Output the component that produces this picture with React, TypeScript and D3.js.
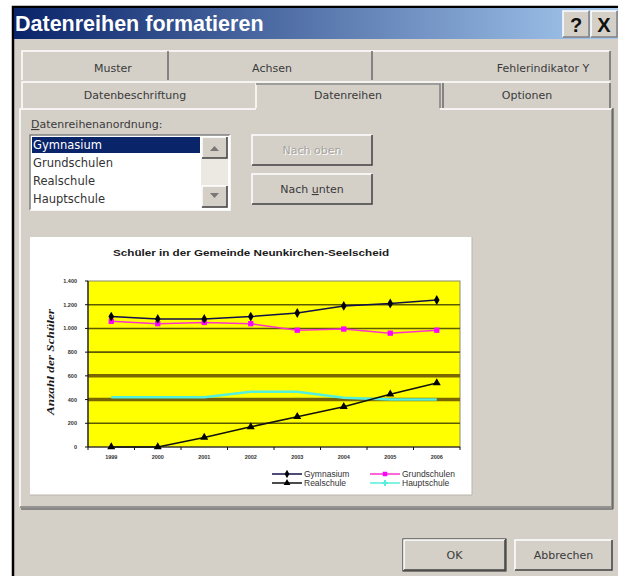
import React from 'react';
import * as d3 from 'd3';

// Daten aus dem Diagramm
const years = ['1999', '2000', '2001', '2002', '2003', '2004', '2005', '2006'];
const gymnasium = [1100, 1080, 1080, 1100, 1130, 1190, 1210, 1240];
const grundschulen = [1060, 1040, 1050, 1040, 985, 995, 960, 985];
const realschule = [0, 0, 80, 170, 255, 340, 445, 540];
const hauptschule = [420, 420, 420, 465, 465, 415, 400, 400];
const yTicks = [0, 200, 400, 600, 800, 1000, 1200, 1400];
const listItems = ['Gymnasium', 'Grundschulen', 'Realschule', 'Hauptschule'];

const GRAY = '#d4d0c8';
const DARK = '#808080';
const UI_FONT = 'DejaVu Sans, sans-serif';

const series = [
  { name: 'Gymnasium', values: gymnasium, color: '#10104a', marker: d3.symbolDiamond, markerColor: '#000000', show: true },
  { name: 'Grundschulen', values: grundschulen, color: '#ff33cc', marker: d3.symbolSquare, markerColor: '#ff00ff', show: true },
  { name: 'Realschule', values: realschule, color: '#111111', marker: d3.symbolTriangle, markerColor: '#000000', show: true },
  { name: 'Hauptschule', values: hauptschule, color: '#55f0dc', marker: d3.symbolCross, markerColor: '#55f0dc', show: false },
];

// erhabene / eingelassene Kante im Windows-Stil
const Bevel = ({ x, y, w, h, sunken = false, fill = GRAY, strong = false }) => {
  const light = sunken ? DARK : '#ffffff';
  const shadow = sunken ? '#ffffff' : strong ? '#404040' : DARK;
  return (
    <g>
      <rect x={x} y={y} width={w} height={h} fill={fill} />
      <path d={`M${x},${y + h} V${y} H${x + w}`} stroke={light} fill="none" strokeWidth={1.5} />
      <path d={`M${x},${y + h} H${x + w} V${y}`} stroke={shadow} fill="none" strokeWidth={1.5} />
    </g>
  );
};

const Button = ({ x, y, w, h, children, isDefault = false }) => (
  <g>
    {isDefault && <rect x={x - 1} y={y - 1} width={w + 2} height={h + 2} fill="none" stroke="#222" />}
    <Bevel x={x} y={y} w={w} h={h} strong />
    <text x={x + w / 2} y={y + h / 2 + 4} textAnchor="middle" fontFamily={UI_FONT} fontSize={11} fill="#3a3a3a">
      {children}
    </text>
  </g>
);

const Chart = () => {
  const left = 88, right = 460, top = 281, bottom = 447;
  const x = d3.scaleBand().domain(years).range([left, right]);
  const y = d3.scaleLinear().domain([0, 1400]).range([bottom, top]);
  const cx = (d: string) => (x(d) as number) + x.bandwidth() / 2;
  const line = d3.line<number>().x((_, i) => cx(years[i])).y((v) => y(v));

  return (
    <g>
      <rect x={30} y={237} width={442} height={258} fill="#ffffff" />
      <path d="M472,237 V495 H30" stroke="#b8b4ac" fill="none" />
      <text x={251} y={256} textAnchor="middle" fontFamily="Liberation Sans, sans-serif" fontWeight="bold"
        fontSize={9.5} textLength={276} lengthAdjust="spacingAndGlyphs" fill="#1a1a1a">
        Schüler in der Gemeinde Neunkirchen-Seelscheid
      </text>
      <text transform={`translate(54,${(top + bottom) / 2 - 2}) rotate(-90)`} textAnchor="middle"
        fontFamily="Liberation Serif, serif" fontStyle="italic" fontWeight="bold" fontSize={10}
        textLength={106} lengthAdjust="spacingAndGlyphs" fill="#1a1a1a">
        Anzahl der Schüler
      </text>

      <rect x={left} y={top} width={right - left} height={bottom - top} fill="#ffff00" stroke="#8a8a70" strokeWidth={1} />
      {yTicks.filter((t) => t > 0 && t < 1400).map((t) => {
        const heavy = t === 400 || t === 600;
        return (
          <line key={t} x1={left} x2={right} y1={y(t)} y2={y(t)}
            stroke={heavy ? '#7a6600' : '#5c5a00'} strokeWidth={heavy ? 3.5 : 1.6} />
        );
      })}

      {/* Achsen */}
      <line x1={left} x2={left} y1={top} y2={bottom} stroke="#111" strokeWidth={1.2} />
      <line x1={left} x2={right} y1={bottom} y2={bottom} stroke="#111" strokeWidth={1.2} />
      {yTicks.map((t) => (
        <g key={t}>
          <line x1={left - 3} x2={left} y1={y(t)} y2={y(t)} stroke="#111" />
          <text x={77} y={y(t) + 2} textAnchor="end" fontFamily="Liberation Sans, sans-serif" fontWeight="bold"
            fontSize={5.5} fill="#333">
            {d3.format(',')(t).replace(/,/g, '.')}
          </text>
        </g>
      ))}
      {years.map((d) => (
        <g key={d}>
          <line x1={x(d) as number} x2={x(d) as number} y1={bottom} y2={bottom + 3} stroke="#111" />
          <text x={cx(d)} y={459} textAnchor="middle" fontFamily="Liberation Sans, sans-serif" fontWeight="bold"
            fontSize={5.5} fill="#333">
            {d}
          </text>
        </g>
      ))}
      <line x1={right} x2={right} y1={bottom} y2={bottom + 3} stroke="#111" />

      {/* Linien */}
      {series.slice().reverse().map((s) => (
        <g key={s.name}>
          <path d={line(s.values) as string} fill="none" stroke={s.color}
            strokeWidth={s.name === 'Hauptschule' ? 2.5 : 1.5} />
          {s.show && s.values.map((v, i) => (
            <path key={i} transform={`translate(${cx(years[i])},${y(v)})`}
              d={d3.symbol().type(s.marker).size(28)() as string} fill={s.markerColor} />
          ))}
        </g>
      ))}

      {/* Legende */}
      {series.map((s, i) => {
        const lx = i % 2 === 0 ? 272 : 370;
        const ly = i < 2 ? 474 : 483;
        return (
          <g key={s.name}>
            <line x1={lx} x2={lx + 30} y1={ly} y2={ly} stroke={s.color} strokeWidth={1.5} />
            <path transform={`translate(${lx + 15},${ly})`} d={d3.symbol().type(s.marker).size(20)() as string}
              fill={s.markerColor} />
            <text x={lx + 32} y={ly + 3} fontFamily="Liberation Sans, sans-serif" fontSize={8.5} fill="#333">
              {s.name}
            </text>
          </g>
        );
      })}
    </g>
  );
};

export default function App() {
  return (
    <svg width={618} height={576} style={{ position: 'absolute', left: 0, top: 0 }}>
      <defs>
        <linearGradient id="titleGrad" x1="0" x2="1" y1="0" y2="0">
          <stop offset="0" stopColor="#0a246a" />
          <stop offset="1" stopColor="#a6caf0" />
        </linearGradient>
      </defs>
      <rect width={618} height={576} fill="#ffffff" />
      <rect x={12} y={6} width={606} height={570} fill={GRAY} />
      <path d="M13,576 V7 H618" stroke="#000" strokeWidth={2.5} fill="none" />

      {/* Titelleiste */}
      <rect x={14} y={8} width={604} height={31} fill="url(#titleGrad)" />
      <text x={15} y={31} fontFamily="Liberation Sans, sans-serif" fontWeight="bold" fontSize={21.5} fill="#ffffff">
        Datenreihen formatieren
      </text>
      <Bevel x={563} y={11} w={26} h={26} />
      <text x={576} y={32} textAnchor="middle" fontFamily="Liberation Sans, sans-serif" fontWeight="bold" fontSize={20} fill="#111">?</text>
      <Bevel x={591} y={11} w={26} h={26} />
      <text x={604} y={32} textAnchor="middle" fontFamily="Liberation Sans, sans-serif" fontWeight="bold" fontSize={20} fill="#111">X</text>

      {/* Registerkarten */}
      <path d="M22,80 V51 H610" stroke="#ffffff" strokeWidth={1.5} fill="none" />
      {[168, 372, 610].map((sx) => (
        <line key={sx} x1={sx} x2={sx} y1={51} y2={80} stroke="#5a5a5a" strokeWidth={1.3} />
      ))}
      <text x={113} y={72} textAnchor="middle" fontFamily={UI_FONT} fontSize={11} fill="#3a3a3a">Muster</text>
      <text x={272} y={72} textAnchor="middle" fontFamily={UI_FONT} fontSize={11} fill="#3a3a3a">Achsen</text>
      <text x={543} y={72} textAnchor="middle" fontFamily={UI_FONT} fontSize={11} fill="#3a3a3a">Fehlerindikator Y</text>

      <path d="M22,108 V82 H610" stroke="#ffffff" strokeWidth={1.5} fill="none" />
      {[443, 610].map((sx) => (
        <line key={sx} x1={sx} x2={sx} y1={83} y2={108} stroke="#5a5a5a" strokeWidth={1.3} />
      ))}
      <rect x={256} y={84} width={184} height={24} fill={GRAY} />
      <path d="M256,108 V84 H440" stroke="#ffffff" strokeWidth={1.5} fill="none" />
      <path d="M256,84 H440 V108" stroke={DARK} strokeWidth={1.5} fill="none" />
      <text x={135} y={99} textAnchor="middle" fontFamily={UI_FONT} fontSize={11} fill="#3a3a3a">Datenbeschriftung</text>
      <text x={348} y={99} textAnchor="middle" fontFamily={UI_FONT} fontSize={11} fill="#3a3a3a">Datenreihen</text>
      <text x={527} y={99} textAnchor="middle" fontFamily={UI_FONT} fontSize={11} fill="#3a3a3a">Optionen</text>

      {/* Panel */}
      <path d="M20,507 V109 H256 M440,109 H612" stroke="#ffffff" strokeWidth={1.5} fill="none" />
      <path d="M20,507 H612 V109" stroke={DARK} strokeWidth={1.5} fill="none" />
      <path d="M21,509 H613 V108" stroke="#404040" strokeWidth={1} fill="none" />

      <text x={31} y={128} fontFamily={UI_FONT} fontSize={11} fill="#3a3a3a">
        <tspan textDecoration="underline">D</tspan>atenreihenanordnung:
      </text>

      {/* Liste */}
      <Bevel x={30} y={135} w={200} h={75} sunken fill="#ffffff" />
      <rect x={32} y={137} width={168} height={16} fill="#0a246a" />
      {listItems.map((it, i) => (
        <text key={it} x={33} y={149 + i * 18} fontFamily={UI_FONT} fontSize={11.5}
          fill={i === 0 ? '#ffffff' : '#333'}>
          {it}
        </text>
      ))}
      <rect x={201} y={137} width={27} height={71} fill="#ece9e2" />
      <Bevel x={202} y={137} w={25} h={21} strong />
      <path d="M210,151 L214.5,146 L219,151 Z" fill="#777" />
      <Bevel x={202} y={186} w={25} h={21} strong />
      <path d="M210,193 L214.5,198 L219,193 Z" fill="#777" />

      {/* Knöpfe */}
      <Bevel x={252} y={135} w={120} h={30} strong />
      <text x={313} y={155} textAnchor="middle" fontFamily={UI_FONT} fontSize={11} fill="#ffffff">Nach oben</text>
      <text x={312} y={154} textAnchor="middle" fontFamily={UI_FONT} fontSize={11} fill="#a5a39d">Nach oben</text>
      <Button x={252} y={174} w={120} h={30}>
        Nach <tspan textDecoration="underline">u</tspan>nten
      </Button>

      <Chart />

      <Button x={404} y={540} w={101} h={30} isDefault>OK</Button>
      <Button x={515} y={540} w={97} h={30}>Abbrechen</Button>
    </svg>
  );
}
